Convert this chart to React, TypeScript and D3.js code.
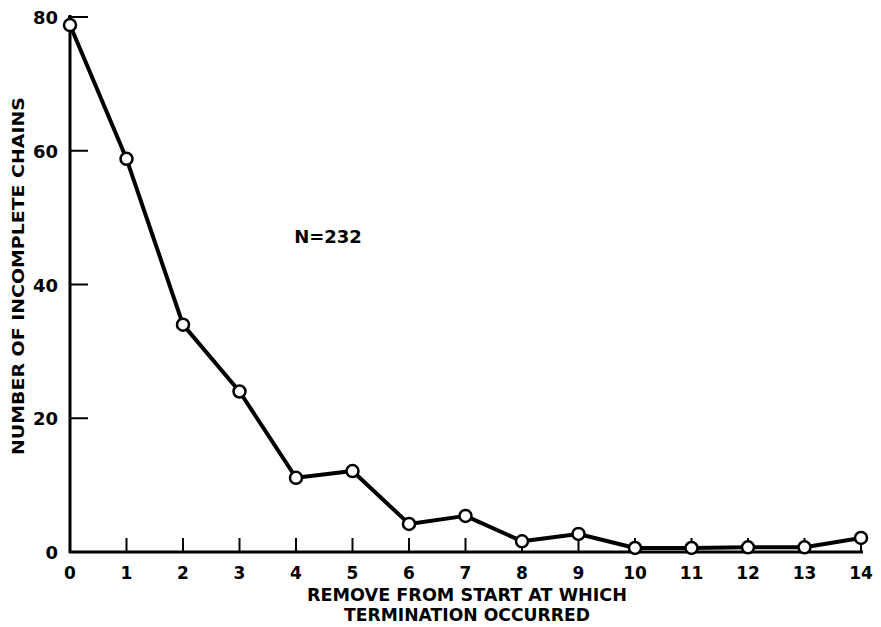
import React from "react";
import * as d3 from "d3";

const xValues = [0, 1, 2, 3, 4, 5, 6, 7, 8, 9, 10, 11, 12, 13, 14];
const counts = [78.8, 58.8, 34, 24, 11.1, 12.1, 4.2, 5.4, 1.6, 2.7, 0.6, 0.6, 0.7, 0.7, 2.1];
const yTicks = [0, 20, 40, 60, 80];
const xTicks = [0, 1, 2, 3, 4, 5, 6, 7, 8, 9, 10, 11, 12, 13, 14];

const W = 881;
const H = 627;
const FONT = "'DejaVu Sans', sans-serif";

export default function App() {
  const x = d3.scaleLinear().domain([0, 14]).range([70, 861]);
  const y = d3.scaleLinear().domain([0, 80]).range([552, 17]);
  const line = d3
    .line<number>()
    .x((_, i) => x(xValues[i]))
    .y((d) => y(d));

  return (
    <svg
      width={W}
      height={H}
      style={{ position: "absolute", left: 0, top: 0, background: "#fff" }}
    >
      {/* axes */}
      <line x1={x(0)} x2={x(0)} y1={y(80) - 2} y2={y(0) + 1} stroke="#000" strokeWidth={3} />
      <line x1={x(0) - 1} x2={x(14) + 2} y1={y(0)} y2={y(0)} stroke="#000" strokeWidth={3} />
      {yTicks.filter((t) => t > 0).map((t) => (
        <line key={"yt" + t} x1={x(0) - (t === 80 ? 2 : 0)} x2={x(0) + 18} y1={y(t)} y2={y(t)} stroke="#000" strokeWidth={2} />
      ))}
      {xTicks.filter((t) => t > 0).map((t) => (
        <line key={"xt" + t} x1={x(t)} x2={x(t)} y1={y(0)} y2={y(0) - 14} stroke="#000" strokeWidth={2} />
      ))}
      {yTicks.map((t) => (
        <text
          key={"yl" + t}
          x={x(0) - 12}
          y={y(t) + 7}
          textAnchor="end"
          fontFamily={FONT}
          fontWeight="bold"
          fontSize={18}
        >
          {t}
        </text>
      ))}
      {xTicks.map((t) => (
        <text
          key={"xl" + t}
          x={x(t)}
          y={y(0) + 27}
          textAnchor="middle"
          fontFamily={FONT}
          fontWeight="bold"
          fontSize={17}
        >
          {t}
        </text>
      ))}
      {/* series */}
      <path d={line(counts) || ""} fill="none" stroke="#000" strokeWidth={4} strokeLinejoin="round" />
      {counts.map((c, i) => (
        <circle key={"p" + i} cx={x(xValues[i])} cy={y(c)} r={6} fill="#fff" stroke="#000" strokeWidth={2.5} />
      ))}
      {/* annotation */}
      <text x={328} y={243} textAnchor="middle" fontFamily={FONT} fontWeight="bold" fontSize={18}>
        N=232
      </text>
      {/* axis titles */}
      <text
        x={467}
        y={601}
        textAnchor="middle"
        fontFamily={FONT}
        fontWeight="bold"
        fontSize={18}
        textLength={320}
        lengthAdjust="spacingAndGlyphs"
      >
        REMOVE FROM START AT WHICH
      </text>
      <text
        x={467}
        y={621}
        textAnchor="middle"
        fontFamily={FONT}
        fontWeight="bold"
        fontSize={18}
        textLength={246}
        lengthAdjust="spacingAndGlyphs"
      >
        TERMINATION OCCURRED
      </text>
      <text
        transform="translate(24,276) rotate(-90)"
        textAnchor="middle"
        fontFamily={FONT}
        fontWeight="bold"
        fontSize={16}
        textLength={358}
        lengthAdjust="spacingAndGlyphs"
      >
        NUMBER OF INCOMPLETE CHAINS
      </text>
    </svg>
  );
}
